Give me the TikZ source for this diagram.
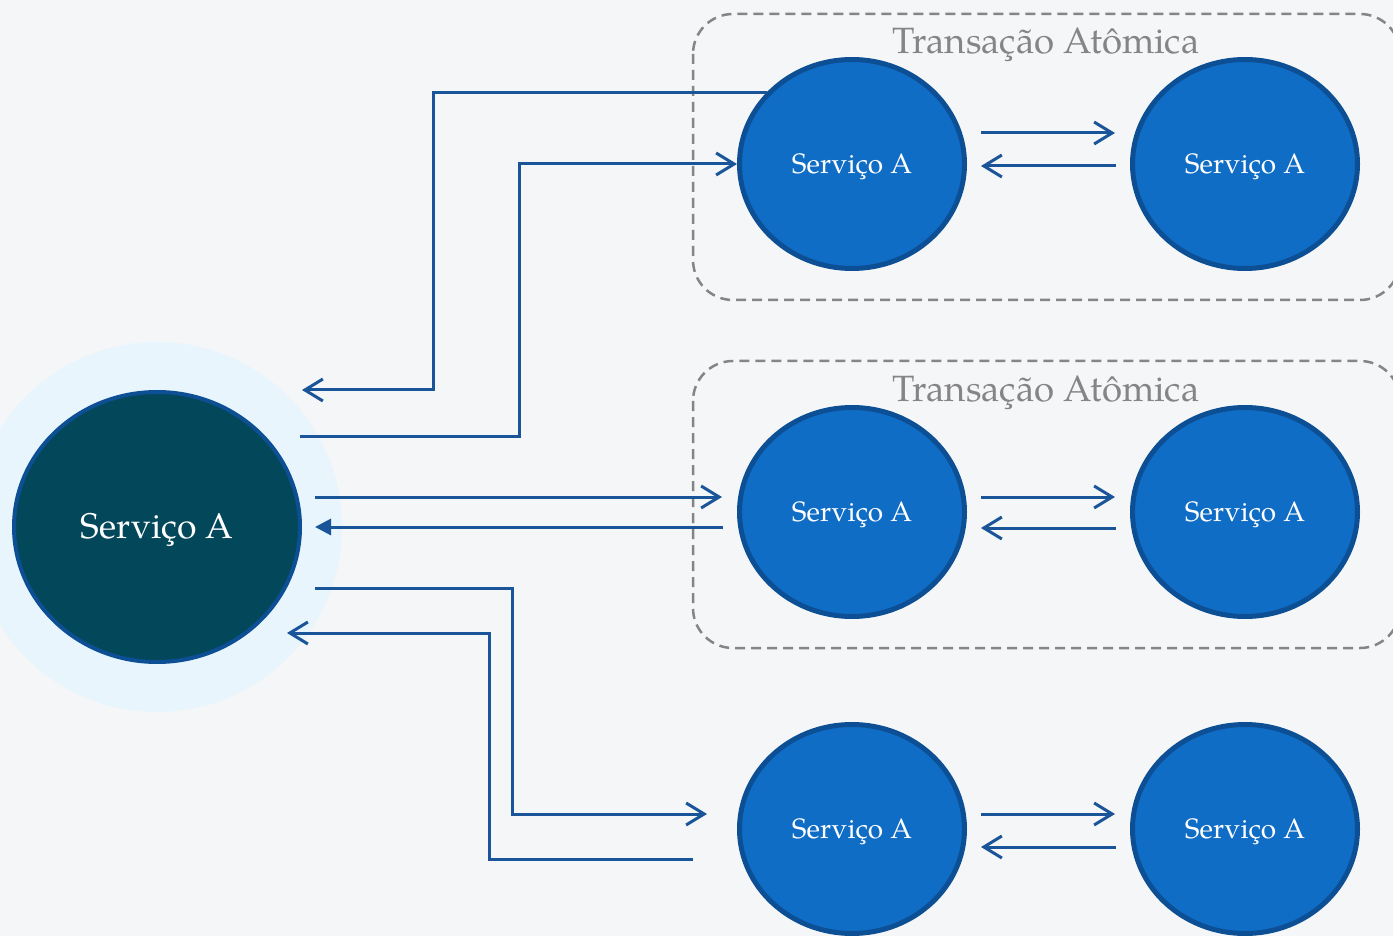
\documentclass[tikz,border=0pt]{standalone}
\usepackage{fontspec}
\setmainfont{TeX Gyre Pagella}
\usetikzlibrary{shapes.geometric,arrows.meta}
\definecolor{bgc}{HTML}{F5F6F7}
\definecolor{glowc}{HTML}{E8F5FC}
\definecolor{bigfill}{HTML}{03475A}
\definecolor{smallfill}{HTML}{106DC6}
\definecolor{ringc}{HTML}{0D4F94}
\definecolor{arrc}{HTML}{1A5599}
\definecolor{boxc}{HTML}{858585}
\pgfdeclareradialshading{glow}{\pgfpoint{0bp}{0bp}}{color(0bp)=(glowc); color(37bp)=(glowc); color(42bp)=(glowc!50!bgc); color(50bp)=(bgc)}
\newcommand{\lbl}[1]{\raisebox{-1.5pt}[\height][\depth]{#1}}
\tikzset{
  svc/.style={ellipse, draw=ringc, line width=2.5pt, fill=smallfill, text=white,
    minimum width=112.5pt, minimum height=104.5pt, inner sep=0pt, font=\fontsize{14}{16}\selectfont},
  bigsvc/.style={ellipse, draw=ringc, line width=2pt, fill=bigfill, text=white,
    minimum width=143pt, minimum height=135pt, inner sep=0pt, font=\fontsize{17.8}{20}\selectfont},
  conn/.style={draw=arrc, line width=1.5pt},
  openhead/.style={-{Straight Barb[length=9pt,width=11pt,line width=1.5pt]}},
  fullhead/.style={-{Triangle[length=8pt,width=8pt]}},
  dbox/.style={draw=boxc, line width=1.25pt, dash pattern=on 5pt off 3pt, rounded corners=20pt},
  ttl/.style={text=boxc, font=\fontsize{18.3}{20}\selectfont, inner sep=0pt}
}
\begin{document}
\begin{tikzpicture}[x=0.5pt,y=-0.5pt]
\clip (0,0) rectangle (1393,936);
\fill[bgc] (0,0) rectangle (1393,936);
% glow
\shade[shading=glow] (157,527) circle [radius=185];
% dashed groups
\draw[dbox] (693,14) rectangle (1400,300);
\draw[dbox] (693,361) rectangle (1400,648);
\node[ttl] (t1) at (1046,45) {Transação Atômica};
\node[ttl] (t2) at (1046,393) {Transação Atômica};
% nodes
\node[bigsvc] (big) at (157,527) {\lbl{Serviço A}};
\node[svc] (a1) at (852,164) {\lbl{Serviço A}};
\node[svc] (a2) at (1245,164) {\lbl{Serviço A}};
\node[svc] (b1) at (852,512) {\lbl{Serviço A}};
\node[svc] (b2) at (1245,512) {\lbl{Serviço A}};
\node[svc] (c1) at (852,829) {\lbl{Serviço A}};
\node[svc] (c2) at (1245,829) {\lbl{Serviço A}};
% free ends
\coordinate (e1) at (302,390);
\coordinate (s2) at (300,436);
\coordinate (s3) at (315,497);
\coordinate (e3) at (722,497);
\coordinate (s4) at (723,527);
\coordinate (e4) at (315,527);
\coordinate (s5) at (315,588);
\coordinate (e5) at (707,814);
\coordinate (s6) at (693,859);
\coordinate (e6) at (287,633);
\coordinate (pa1) at (981,133); \coordinate (pa2) at (1115,133);
\coordinate (pa3) at (1116,166); \coordinate (pa4) at (981,166);
\coordinate (pb1) at (981,497); \coordinate (pb2) at (1115,497);
\coordinate (pb3) at (1116,528); \coordinate (pb4) at (981,528);
\coordinate (pc1) at (981,814); \coordinate (pc2) at (1115,814);
\coordinate (pc3) at (1116,847); \coordinate (pc4) at (981,847);
% connectors
\draw[conn,openhead] (a1.140) -| (433,390) -- (e1);
\draw[conn,openhead] (s2) -| (519,164) -- (a1.west);
\draw[conn,openhead] (s3) -- (e3);
\draw[conn,fullhead] (s4) -- (e4);
\draw[conn,openhead] (s5) -| (512,814) -- (e5);
\draw[conn,openhead] (s6) -| (489,633) -- (e6);
\draw[conn,openhead] (pa1) -- (pa2);
\draw[conn,openhead] (pa3) -- (pa4);
\draw[conn,openhead] (pb1) -- (pb2);
\draw[conn,openhead] (pb3) -- (pb4);
\draw[conn,openhead] (pc1) -- (pc2);
\draw[conn,openhead] (pc3) -- (pc4);
\end{tikzpicture}
\end{document}
